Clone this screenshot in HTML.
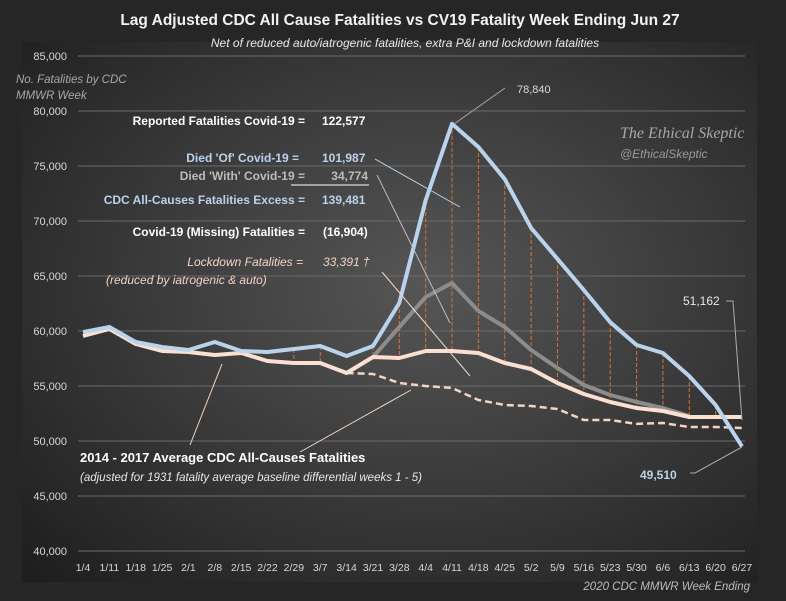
<!DOCTYPE html>
<html><head><meta charset="utf-8">
<style>
html,body{margin:0;padding:0;background:#262626;}
svg{display:block;font-family:"Liberation Sans",sans-serif;}
</style></head>
<body>
<svg width="786" height="601" viewBox="0 0 786 601">
<defs>
<radialGradient id="bg" cx="0.55" cy="0.45" r="0.75">
<stop offset="0" stop-color="#565656"/><stop offset="1" stop-color="#1f1f1f"/>
</radialGradient>
</defs>
<rect x="0" y="0" width="786" height="601" fill="#262626"/>
<rect x="22" y="42" width="735" height="540" fill="url(#bg)"/>
<g id="grid"></g>
<g id="ylabels" font-size="11" fill="#d8d8d8" text-anchor="end"></g>
<g id="xlabels" font-size="10.5" fill="#d8d8d8" text-anchor="middle"></g>
<g id="drops"></g>
<g id="series"></g>
<text x="400" y="25" text-anchor="middle" font-size="15.5" font-weight="bold" fill="#f2f2f2">Lag Adjusted CDC All Cause Fatalities vs CV19 Fatality Week Ending Jun 27</text>
<text x="405" y="47" text-anchor="middle" font-size="12" font-style="italic" fill="#e8e8e8">Net of reduced auto/iatrogenic fatalities, extra P&amp;I and lockdown fatalities</text>
<text x="16" y="83" font-size="11.5" font-style="italic" fill="#a8a8a8"><tspan x="16">No. Fatalities by CDC</tspan><tspan x="16" dy="16">MMWR Week</tspan></text>
<g font-size="12" font-weight="bold">
<text x="305" y="125" text-anchor="end" fill="#ffffff">Reported Fatalities Covid-19 =</text>
<text x="322" y="125" fill="#ffffff">122,577</text>
<text x="299" y="162" text-anchor="end" fill="#b9d3ec">Died 'Of' Covid-19 =</text>
<text x="322" y="162" fill="#b9d3ec">101,987</text>
<text x="305" y="180" text-anchor="end" fill="#bcbcbc">Died 'With' Covid-19 =</text>
<text x="368" y="180" text-anchor="end" fill="#bcbcbc">34,774</text>
<line x1="291" y1="185" x2="369" y2="185" stroke="#ffffff" stroke-width="1"/>
<text x="305" y="204" text-anchor="end" fill="#b9d3ec">CDC All-Causes Fatalities Excess =</text>
<text x="322" y="204" fill="#b9d3ec">139,481</text>
<text x="305" y="236" text-anchor="end" fill="#ffffff">Covid-19 (Missing) Fatalities =</text>
<text x="323" y="236" fill="#ffffff">(16,904)</text>
</g>
<g font-size="12" font-style="italic" fill="#f2d5c4">
<text x="303" y="266" text-anchor="end">Lockdown Fatalities =</text>
<text x="323" y="266">33,391 †</text>
<text x="106" y="284">(reduced by iatrogenic &amp; auto)</text>
</g>
<g stroke-width="1" fill="none">
<line x1="375" y1="159" x2="460" y2="207" stroke="#b9d3ec"/>
<line x1="377" y1="175" x2="450" y2="323" stroke="#bcbcbc"/>
<line x1="382" y1="272" x2="470" y2="376" stroke="#f2d5c4"/>
<line x1="454" y1="124" x2="505" y2="88" stroke="#aaaaaa"/>
<line x1="222" y1="364" x2="190" y2="445" stroke="#f2d5c4"/>
<line x1="411" y1="390" x2="300" y2="452" stroke="#f2d5c4"/>
<polyline points="726,301 733,301 742,420" stroke="#aaaaaa"/>
<polyline points="690,473 695,473 742,447" stroke="#aaaaaa"/>
</g>
<text x="517" y="93" font-size="11" fill="#d8d8d8">78,840</text>
<text x="683" y="305" font-size="12" fill="#e8e8e8">51,162</text>
<text x="640" y="479" font-size="12" font-weight="bold" fill="#b9d3ec">49,510</text>
<text x="620" y="138" font-size="16" font-style="italic" fill="#a8a8a8" font-family="Liberation Serif, serif">The Ethical Skeptic</text>
<text x="620" y="158" font-size="12" font-style="italic" fill="#9a9a9a">@EthicalSkeptic</text>
<text x="80" y="462" font-size="13" font-weight="bold" fill="#ffffff">2014 - 2017 Average CDC All-Causes Fatalities</text>
<text x="80" y="481" font-size="11.5" font-style="italic" fill="#e8e8e8">(adjusted for 1931 fatality average baseline differential weeks 1 - 5)</text>
<text x="750" y="590" text-anchor="end" font-size="11.5" font-style="italic" fill="#bcbcbc">2020 CDC MMWR Week Ending</text>
</svg>
<script>
const weeks=["1/4","1/11","1/18","1/25","2/1","2/8","2/15","2/22","2/29","3/7","3/14","3/21","3/28","4/4","4/11","4/18","4/25","5/2","5/9","5/16","5/23","5/30","6/6","6/13","6/20","6/27"];
const yTicks=[40000,45000,50000,55000,60000,65000,70000,75000,80000,85000];
const allCauses=[59900,60360,59000,58550,58270,59000,58180,58090,58360,58640,57730,58640,62550,71900,78840,76730,73800,69360,66550,63730,60800,58730,58000,55900,53270,49510];
const diedOf=[null,null,null,null,null,null,null,null,null,null,null,57640,60360,63090,64360,61820,60360,58270,56640,55090,54180,53550,53000,52270,null,null];
const lagAdjusted=[59550,60180,58820,58180,58090,57820,58000,57270,57090,57090,56180,57640,57550,58180,58180,58000,57090,56550,55270,54270,53550,53000,52730,52180,52180,52180];
const baseline=[null,null,null,null,null,null,null,null,null,null,56180,56090,55270,55000,54820,53730,53270,53180,52910,51910,51910,51550,51640,51270,51270,51180];
const NS='http://www.w3.org/2000/svg';
function X(i){return 83+i*(742-83)/(weeks.length-1);}
function Y(v){return 551-(v-40000)*(495/45000);}
function mk(tag,attrs,parent){const e=document.createElementNS(NS,tag);for(const k in attrs)e.setAttribute(k,attrs[k]);document.getElementById(parent).appendChild(e);return e;}
yTicks.forEach(t=>{
  const l=mk('line',{x1:78,x2:745,y1:Y(t),y2:Y(t),stroke:'#6a6a6a','stroke-width':1},'grid');
  
  
  const tx=mk('text',{x:67,y:Y(t)+4},'ylabels');tx.textContent=t.toLocaleString('en-US');
  
  
});
weeks.forEach((w,i)=>{
  const tx=mk('text',{x:X(i),y:571},'xlabels');tx.textContent=w;
  
  
});
for(let i=8;i<weeks.length-1;i++){
  if(i===10)continue;
  const d=mk('line',{x1:X(i),x2:X(i),y1:Y(allCauses[i]),y2:Y(lagAdjusted[i]),stroke:'#d9732e','stroke-width':1,'stroke-dasharray':'4,2'},'drops');
  
  
}
function line(arr,color,w,dash,name){
  let pts=[];arr.forEach((v,i)=>{if(v!==null)pts.push(X(i).toFixed(1)+','+Y(v).toFixed(1));});
  const p=mk('polyline',{points:pts.join(' '),fill:'none',stroke:color,'stroke-width':w,'stroke-linejoin':'round'},'series');
  if(dash)p.setAttribute('stroke-dasharray',dash);
  
  
}
line(baseline,'#f2d5c4',2.5,'7,4','baseline-average-line');
line(diedOf,'#8c8c8c',4,null,'died-of-covid-line');
line(lagAdjusted,'#fbe0d2',4,null,'lag-adjusted-line');
line(allCauses,'#b9d3ec',4,null,'all-causes-line');
</script>
</body></html>
